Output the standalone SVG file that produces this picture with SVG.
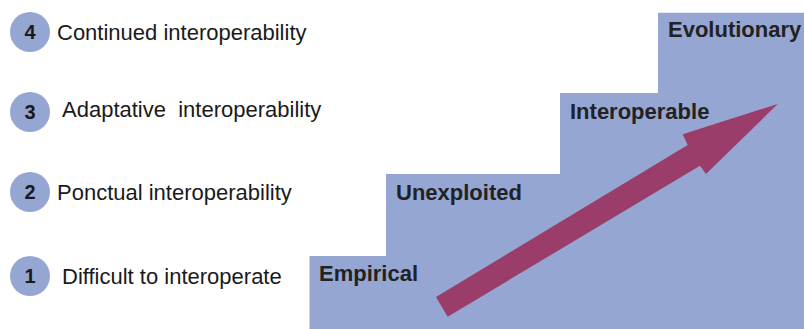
<svg xmlns="http://www.w3.org/2000/svg" width="804" height="329" viewBox="0 0 804 329">
<style>
.bg{fill:#ffffff}
.step{fill:#96a6d2}
.circ{fill:#96a6d2}
.num{font-family:"Liberation Sans",Arial,sans-serif;font-weight:bold;font-size:20px;fill:#1a1a1a;text-anchor:middle}
.lbl{font-family:"Liberation Sans",Arial,sans-serif;font-size:22px;fill:#1a1a1a;white-space:pre}
.stl{font-family:"Liberation Sans",Arial,sans-serif;font-weight:bold;font-size:22px;fill:#222222}
.arrow{fill:#9b3d6a}
</style>
<rect class="bg" x="0" y="0" width="804" height="329"/>
<g id="stairs">
<polygon class="step" points="309.5,329 309.5,256 386,256 386,174 560,174 560,93 658,93 658,12.7 804,12.7 804,329"/>
</g>
<g id="step-empirical"><text class="stl" x="319" y="281">Empirical</text></g>
<g id="step-unexploited"><text class="stl" x="396" y="200">Unexploited</text></g>
<g id="step-interoperable"><text class="stl" x="570" y="119">Interoperable</text></g>
<g id="step-evolutionary"><text class="stl" x="668" y="37">Evolutionary</text></g>
<g id="connectors">
<polygon class="arrow" points="436,297 687.7,145 682.7,134.3 777.7,104 706,174 700,165.7 447.7,316.7"/>
</g>
<g id="level-4">
<circle class="circ" cx="30" cy="32" r="20"/>
<text class="num" x="30" y="39">4</text>
<text class="lbl" x="57" y="40">Continued interoperability</text>
</g>
<g id="level-3">
<circle class="circ" cx="30" cy="112" r="20"/>
<text class="num" x="30" y="119">3</text>
<text class="lbl" x="62" y="117" xml:space="preserve">Adaptative  interoperability</text>
</g>
<g id="level-2">
<circle class="circ" cx="30" cy="192" r="20"/>
<text class="num" x="30" y="199">2</text>
<text class="lbl" x="57" y="200">Ponctual interoperability</text>
</g>
<g id="level-1">
<circle class="circ" cx="30" cy="276" r="20"/>
<text class="num" x="30" y="283">1</text>
<text class="lbl" x="62" y="284">Difficult to interoperate</text>
</g>
</svg>
